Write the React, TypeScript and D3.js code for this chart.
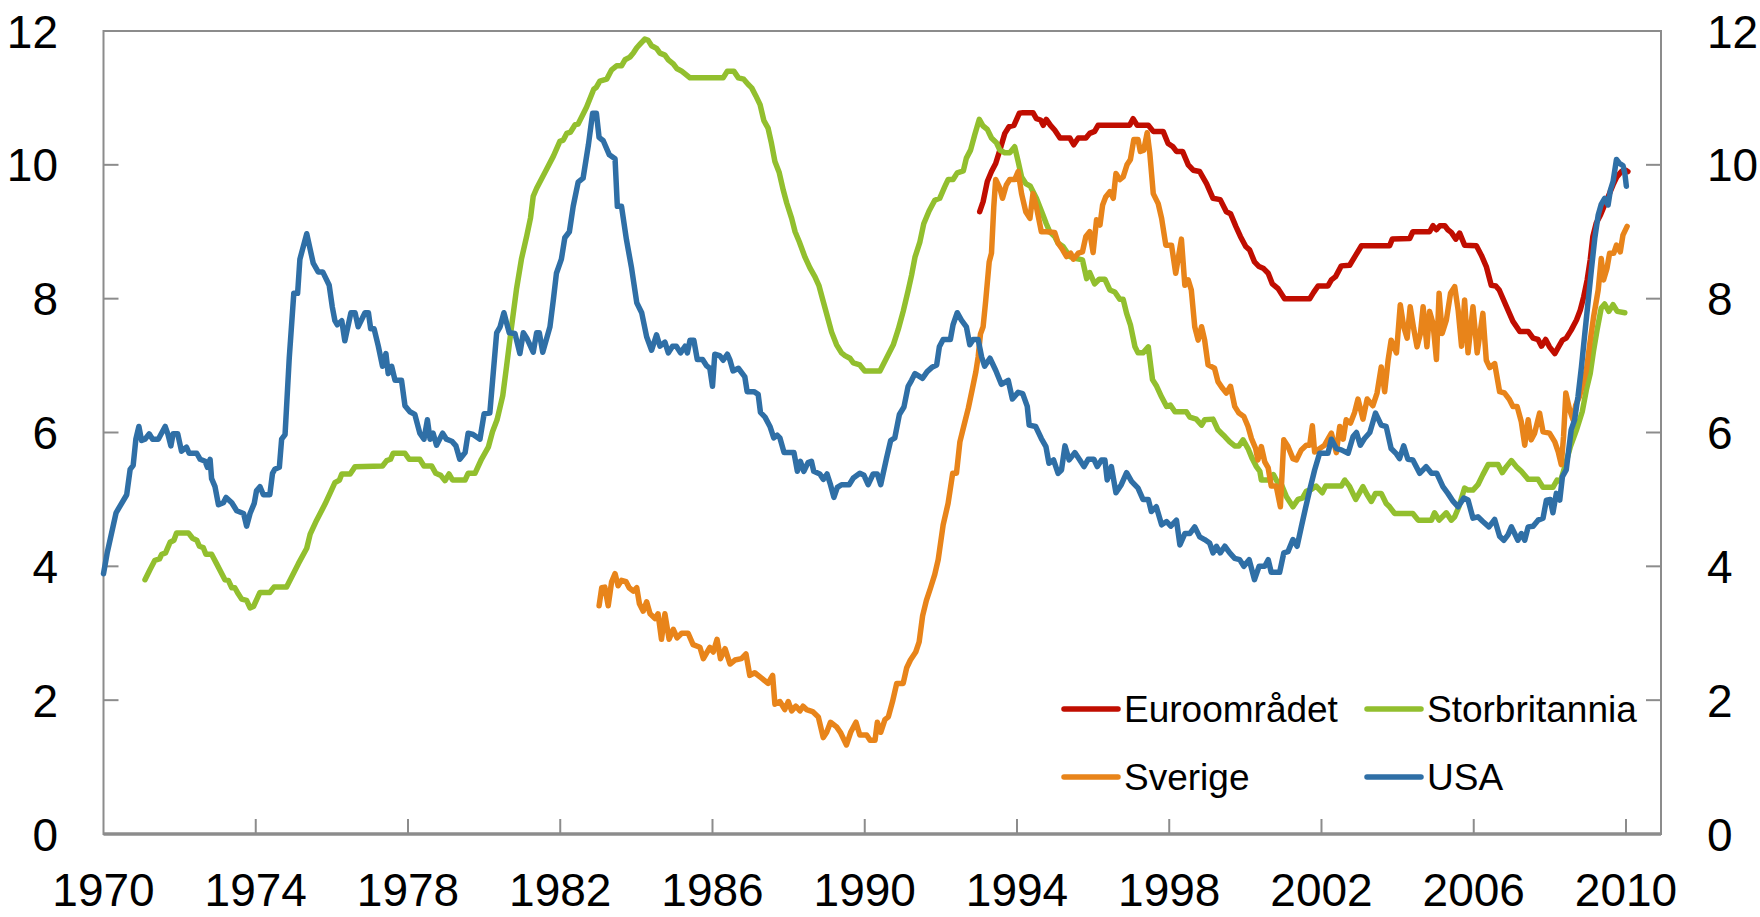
import React from "react";
import * as d3 from "d3";

// policy rates (%), [year, value]
const euro: [number, number][] = [
  [1993.02, 9.3], [1993.11, 9.45], [1993.22, 9.75], [1993.33, 9.9], [1993.44, 10.02], [1993.55, 10.22], [1993.68, 10.47],
  [1993.79, 10.57], [1993.92, 10.59], [1994.06, 10.77], [1994.16, 10.78], [1994.42, 10.78], [1994.51, 10.69], [1994.62, 10.67],
  [1994.69, 10.59], [1994.77, 10.68], [1994.88, 10.59], [1994.99, 10.52], [1995.13, 10.4], [1995.39, 10.4], [1995.49, 10.3],
  [1995.61, 10.4], [1995.81, 10.4], [1995.91, 10.47], [1996.04, 10.5], [1996.13, 10.59], [1996.96, 10.59], [1997.05, 10.69],
  [1997.16, 10.59], [1997.45, 10.59], [1997.58, 10.5], [1997.84, 10.5], [1997.97, 10.32], [1998.1, 10.27], [1998.19, 10.2],
  [1998.35, 10.2], [1998.5, 10.0], [1998.63, 9.92], [1998.8, 9.9], [1998.98, 9.72], [1999.15, 9.5], [1999.34, 9.48],
  [1999.5, 9.3], [1999.61, 9.27], [1999.75, 9.08], [1999.87, 8.93], [2000.01, 8.78], [2000.11, 8.73], [2000.24, 8.55],
  [2000.36, 8.48], [2000.48, 8.45], [2000.6, 8.38], [2000.71, 8.22], [2000.86, 8.15], [2001.03, 8.0], [2001.69, 8.0],
  [2001.79, 8.09], [2001.91, 8.19], [2002.17, 8.19], [2002.26, 8.28], [2002.37, 8.33], [2002.52, 8.49], [2002.74, 8.5],
  [2002.9, 8.65], [2003.05, 8.79], [2003.79, 8.79], [2003.86, 8.89], [2004.32, 8.9], [2004.4, 9.0], [2004.84, 9.0],
  [2004.93, 9.09], [2005.02, 9.03], [2005.11, 9.09], [2005.24, 9.09], [2005.32, 9.03], [2005.41, 8.99], [2005.53, 8.89],
  [2005.63, 8.98], [2005.76, 8.8], [2006.07, 8.79], [2006.2, 8.65], [2006.33, 8.48], [2006.46, 8.2], [2006.58, 8.19],
  [2006.67, 8.13], [2006.86, 7.88], [2007.03, 7.66], [2007.21, 7.51], [2007.43, 7.51], [2007.56, 7.41], [2007.69, 7.39],
  [2007.78, 7.29], [2007.89, 7.39], [2007.99, 7.28], [2008.13, 7.18], [2008.24, 7.29], [2008.33, 7.38], [2008.43, 7.41],
  [2008.56, 7.53], [2008.7, 7.68], [2008.8, 7.83], [2008.89, 8.03], [2008.98, 8.28], [2009.06, 8.58], [2009.13, 8.93],
  [2009.22, 9.13], [2009.33, 9.25], [2009.44, 9.4], [2009.55, 9.55], [2009.66, 9.7], [2009.76, 9.82], [2009.88, 9.9],
  [2009.99, 9.92], [2010.05, 9.9],
];

const uk: [number, number][] = [
  [1971.09, 3.8], [1971.22, 3.95], [1971.35, 4.09], [1971.47, 4.11], [1971.53, 4.18], [1971.63, 4.2], [1971.75, 4.36],
  [1971.85, 4.39], [1971.92, 4.5], [1972.23, 4.5], [1972.34, 4.42], [1972.45, 4.39], [1972.52, 4.3], [1972.62, 4.28],
  [1972.69, 4.18], [1972.84, 4.18], [1972.97, 4.04], [1973.19, 3.8], [1973.28, 3.79], [1973.37, 3.68], [1973.45, 3.68],
  [1973.54, 3.59], [1973.63, 3.51], [1973.76, 3.49], [1973.85, 3.38], [1973.94, 3.4], [1974.11, 3.61], [1974.37, 3.61],
  [1974.48, 3.69], [1974.81, 3.69], [1975.12, 4.04], [1975.34, 4.27], [1975.43, 4.48], [1975.6, 4.69], [1975.82, 4.93],
  [1976.08, 5.25], [1976.2, 5.29], [1976.26, 5.38], [1976.48, 5.38], [1976.61, 5.49], [1977.33, 5.5], [1977.44, 5.58],
  [1977.54, 5.6], [1977.61, 5.69], [1977.92, 5.69], [1978.03, 5.6], [1978.31, 5.6], [1978.42, 5.5], [1978.62, 5.5],
  [1978.73, 5.39], [1978.86, 5.36], [1978.97, 5.28], [1979.08, 5.38], [1979.17, 5.29], [1979.5, 5.29], [1979.58, 5.39],
  [1979.76, 5.39], [1979.93, 5.6], [1980.11, 5.78], [1980.22, 6.01], [1980.34, 6.19], [1980.49, 6.55], [1980.59, 6.99],
  [1980.72, 7.58], [1980.85, 8.14], [1980.98, 8.59], [1981.12, 8.94], [1981.22, 9.21], [1981.29, 9.53], [1981.38, 9.65],
  [1981.6, 9.89], [1981.82, 10.13], [1981.99, 10.35], [1982.08, 10.37], [1982.17, 10.47], [1982.27, 10.49], [1982.39, 10.6],
  [1982.47, 10.61], [1982.69, 10.86], [1982.88, 11.13], [1982.95, 11.16], [1983.04, 11.25], [1983.22, 11.28], [1983.35, 11.42],
  [1983.48, 11.48], [1983.61, 11.48], [1983.7, 11.57], [1983.83, 11.61], [1983.92, 11.67], [1984.01, 11.75], [1984.09, 11.8],
  [1984.22, 11.88], [1984.31, 11.86], [1984.4, 11.78], [1984.53, 11.74], [1984.62, 11.67], [1984.75, 11.64], [1984.84, 11.57],
  [1984.97, 11.51], [1985.06, 11.44], [1985.19, 11.4], [1985.28, 11.36], [1985.41, 11.3], [1986.28, 11.3], [1986.39, 11.4],
  [1986.56, 11.4], [1986.68, 11.3], [1986.82, 11.28], [1986.94, 11.2], [1987.03, 11.15], [1987.14, 11.03], [1987.25, 10.9],
  [1987.35, 10.66], [1987.46, 10.55], [1987.55, 10.32], [1987.64, 10.05], [1987.75, 9.89], [1987.86, 9.62], [1987.95, 9.43],
  [1988.08, 9.2], [1988.17, 9.0], [1988.28, 8.85], [1988.43, 8.62], [1988.56, 8.46], [1988.69, 8.33], [1988.8, 8.19],
  [1988.89, 8.0], [1989.0, 7.77], [1989.13, 7.5], [1989.26, 7.31], [1989.39, 7.19], [1989.48, 7.15], [1989.61, 7.11],
  [1989.7, 7.04], [1989.87, 7.01], [1990.0, 6.92], [1990.4, 6.92], [1990.57, 7.11], [1990.75, 7.31], [1990.88, 7.54],
  [1991.01, 7.81], [1991.14, 8.12], [1991.23, 8.35], [1991.32, 8.62], [1991.45, 8.85], [1991.55, 9.12], [1991.69, 9.31],
  [1991.84, 9.47], [1991.97, 9.5], [1992.1, 9.67], [1992.19, 9.78], [1992.32, 9.78], [1992.43, 9.88], [1992.59, 9.91],
  [1992.67, 10.1], [1992.78, 10.22], [1992.89, 10.45], [1993.01, 10.68], [1993.11, 10.58], [1993.22, 10.53], [1993.33, 10.4],
  [1993.46, 10.33], [1993.55, 10.22], [1993.68, 10.18], [1993.81, 10.18], [1993.94, 10.27], [1994.03, 10.05], [1994.12, 9.82],
  [1994.23, 9.72], [1994.35, 9.68], [1994.51, 9.5], [1994.67, 9.27], [1994.77, 9.12], [1994.86, 9.0], [1994.99, 8.93],
  [1995.08, 8.83], [1995.21, 8.78], [1995.39, 8.63], [1995.56, 8.6], [1995.72, 8.58], [1995.83, 8.3], [1995.91, 8.39],
  [1996.04, 8.22], [1996.16, 8.29], [1996.31, 8.29], [1996.44, 8.13], [1996.57, 8.1], [1996.7, 7.99], [1996.79, 7.99],
  [1996.88, 7.78], [1996.98, 7.61], [1997.1, 7.28], [1997.18, 7.19], [1997.31, 7.19], [1997.45, 7.28], [1997.56, 6.79],
  [1997.67, 6.69], [1997.8, 6.53], [1997.93, 6.39], [1998.03, 6.41], [1998.15, 6.31], [1998.45, 6.31], [1998.54, 6.23],
  [1998.71, 6.2], [1998.85, 6.11], [1998.93, 6.19], [1999.15, 6.2], [1999.28, 6.04], [1999.37, 5.99], [1999.46, 5.94],
  [1999.59, 5.86], [1999.72, 5.8], [1999.83, 5.8], [1999.94, 5.89], [2000.07, 5.76], [2000.18, 5.61], [2000.29, 5.49],
  [2000.38, 5.42], [2000.42, 5.29], [2000.64, 5.29], [2000.74, 5.37], [2000.83, 5.27], [2000.95, 5.22], [2001.08, 5.04],
  [2001.25, 4.89], [2001.38, 5.0], [2001.5, 5.02], [2001.6, 5.12], [2001.73, 5.15], [2001.86, 5.2], [2002.02, 5.1],
  [2002.11, 5.2], [2002.52, 5.2], [2002.61, 5.29], [2002.74, 5.19], [2002.9, 5.0], [2002.99, 5.09], [2003.09, 5.19],
  [2003.2, 5.07], [2003.31, 4.97], [2003.42, 5.09], [2003.57, 5.09], [2003.7, 4.94], [2003.79, 4.89], [2003.92, 4.79],
  [2004.4, 4.79], [2004.54, 4.69], [2004.89, 4.69], [2004.97, 4.8], [2005.09, 4.69], [2005.28, 4.8], [2005.41, 4.69],
  [2005.5, 4.74], [2005.61, 4.89], [2005.76, 5.17], [2005.85, 5.14], [2005.98, 5.14], [2006.11, 5.22], [2006.24, 5.37],
  [2006.38, 5.52], [2006.64, 5.52], [2006.75, 5.4], [2006.86, 5.49], [2006.99, 5.58], [2007.12, 5.49], [2007.25, 5.42],
  [2007.43, 5.3], [2007.69, 5.3], [2007.82, 5.18], [2008.08, 5.18], [2008.19, 5.29], [2008.28, 5.27], [2008.42, 5.54],
  [2008.54, 5.79], [2008.7, 6.04], [2008.85, 6.31], [2008.96, 6.64], [2009.06, 6.88], [2009.15, 7.23], [2009.24, 7.53],
  [2009.35, 7.86], [2009.44, 7.92], [2009.55, 7.81], [2009.66, 7.91], [2009.77, 7.81], [2009.97, 7.79],
];

const sweden: [number, number][] = [
  [1983.02, 3.41], [1983.09, 3.68], [1983.17, 3.69], [1983.26, 3.41], [1983.35, 3.77], [1983.44, 3.89], [1983.52, 3.71],
  [1983.61, 3.79], [1983.73, 3.77], [1983.81, 3.68], [1983.92, 3.63], [1984.01, 3.68], [1984.08, 3.44], [1984.18, 3.33],
  [1984.27, 3.47], [1984.36, 3.29], [1984.49, 3.22], [1984.57, 3.29], [1984.66, 2.91], [1984.75, 3.29], [1984.86, 2.91],
  [1984.97, 3.06], [1985.07, 2.93], [1985.19, 3.0], [1985.36, 3.0], [1985.49, 2.83], [1985.67, 2.79], [1985.76, 2.62],
  [1985.93, 2.79], [1986.02, 2.72], [1986.12, 2.91], [1986.21, 2.62], [1986.33, 2.77], [1986.46, 2.54], [1986.59, 2.6],
  [1986.76, 2.62], [1986.88, 2.69], [1986.98, 2.37], [1987.11, 2.41], [1987.29, 2.33], [1987.46, 2.25], [1987.58, 2.37],
  [1987.64, 1.94], [1987.77, 1.98], [1987.9, 1.86], [1987.99, 1.98], [1988.08, 1.84], [1988.19, 1.91], [1988.3, 1.84],
  [1988.38, 1.91], [1988.47, 1.86], [1988.63, 1.83], [1988.78, 1.75], [1988.91, 1.44], [1989.0, 1.52], [1989.1, 1.67],
  [1989.26, 1.6], [1989.36, 1.52], [1989.52, 1.33], [1989.63, 1.52], [1989.77, 1.67], [1989.87, 1.48], [1990.05, 1.48],
  [1990.14, 1.4], [1990.27, 1.4], [1990.33, 1.67], [1990.42, 1.52], [1990.53, 1.71], [1990.62, 1.75], [1990.73, 1.98],
  [1990.84, 2.25], [1991.01, 2.25], [1991.1, 2.48], [1991.2, 2.6], [1991.34, 2.72], [1991.43, 2.87], [1991.52, 3.26],
  [1991.62, 3.49], [1991.73, 3.68], [1991.84, 3.88], [1991.93, 4.1], [1992.06, 4.62], [1992.19, 4.94], [1992.31, 5.39],
  [1992.41, 5.39], [1992.5, 5.86], [1992.6, 6.09], [1992.72, 6.36], [1992.83, 6.66], [1992.92, 6.91], [1992.98, 7.13],
  [1993.04, 7.47], [1993.11, 7.58], [1993.18, 7.98], [1993.27, 8.55], [1993.33, 8.68], [1993.39, 9.37], [1993.44, 9.78],
  [1993.55, 9.65], [1993.62, 9.5], [1993.72, 9.7], [1993.81, 9.78], [1993.94, 9.78], [1994.03, 9.9], [1994.12, 9.57],
  [1994.23, 9.3], [1994.34, 9.2], [1994.42, 9.57], [1994.51, 9.37], [1994.64, 9.0], [1994.77, 9.0], [1994.99, 8.99],
  [1995.08, 8.83], [1995.2, 8.73], [1995.3, 8.63], [1995.41, 8.68], [1995.48, 8.59], [1995.61, 8.68], [1995.72, 8.7],
  [1995.81, 8.93], [1995.91, 9.0], [1996.0, 8.69], [1996.09, 9.18], [1996.18, 9.1], [1996.25, 9.4], [1996.33, 9.52],
  [1996.44, 9.6], [1996.53, 9.5], [1996.6, 9.87], [1996.7, 9.78], [1996.79, 9.82], [1996.89, 10.0], [1996.98, 10.08],
  [1997.07, 10.38], [1997.18, 10.38], [1997.24, 10.2], [1997.33, 10.22], [1997.42, 10.48], [1997.49, 10.17], [1997.58, 9.57],
  [1997.71, 9.42], [1997.8, 9.2], [1997.91, 8.8], [1998.06, 8.8], [1998.17, 8.38], [1998.32, 8.89], [1998.41, 8.2],
  [1998.5, 8.28], [1998.58, 8.13], [1998.67, 7.58], [1998.76, 7.38], [1998.85, 7.58], [1998.93, 7.38], [1999.02, 7.01],
  [1999.19, 6.96], [1999.28, 6.76], [1999.4, 6.66], [1999.5, 6.59], [1999.61, 6.69], [1999.72, 6.39], [1999.83, 6.29],
  [1999.96, 6.24], [2000.07, 6.09], [2000.16, 5.91], [2000.27, 5.76], [2000.33, 5.59], [2000.42, 5.79], [2000.51, 5.56],
  [2000.6, 5.47], [2000.68, 5.2], [2000.81, 5.2], [2000.92, 4.89], [2001.01, 5.89], [2001.12, 5.79], [2001.25, 5.61],
  [2001.34, 5.59], [2001.47, 5.74], [2001.6, 5.81], [2001.69, 5.81], [2001.76, 6.1], [2001.82, 5.71], [2002.08, 5.81],
  [2002.26, 5.99], [2002.39, 5.7], [2002.48, 6.09], [2002.57, 5.9], [2002.65, 6.19], [2002.76, 6.14], [2002.87, 6.3],
  [2002.96, 6.5], [2003.09, 6.2], [2003.2, 6.5], [2003.35, 6.4], [2003.46, 6.59], [2003.57, 6.98], [2003.66, 6.61],
  [2003.75, 7.08], [2003.83, 7.38], [2003.97, 7.19], [2004.07, 7.91], [2004.16, 7.58], [2004.25, 7.41], [2004.33, 7.88],
  [2004.42, 7.56], [2004.51, 7.28], [2004.6, 7.48], [2004.67, 7.88], [2004.77, 7.28], [2004.84, 7.81], [2004.93, 7.63],
  [2005.02, 7.09], [2005.09, 8.08], [2005.17, 7.48], [2005.28, 7.68], [2005.39, 8.08], [2005.5, 8.18], [2005.59, 7.83],
  [2005.68, 7.29], [2005.76, 7.98], [2005.85, 7.19], [2005.98, 7.88], [2006.09, 7.19], [2006.24, 7.78], [2006.33, 7.08],
  [2006.42, 6.97], [2006.55, 7.03], [2006.68, 6.61], [2006.81, 6.59], [2006.94, 6.49], [2007.03, 6.39], [2007.14, 6.39],
  [2007.25, 6.16], [2007.34, 5.81], [2007.43, 6.19], [2007.51, 5.89], [2007.6, 5.99], [2007.73, 6.29], [2007.82, 6.01],
  [2007.99, 5.99], [2008.13, 5.86], [2008.22, 5.71], [2008.3, 5.52], [2008.36, 5.94], [2008.42, 6.59], [2008.52, 6.34],
  [2008.61, 6.19], [2008.68, 6.41], [2008.78, 6.54], [2008.87, 6.74], [2008.96, 6.93], [2009.05, 7.33], [2009.15, 7.73],
  [2009.27, 8.13], [2009.35, 8.6], [2009.41, 8.28], [2009.5, 8.45], [2009.57, 8.68], [2009.68, 8.68], [2009.75, 8.8],
  [2009.85, 8.7], [2009.92, 8.95], [2010.03, 9.08],
];

const usa: [number, number][] = [
  [1970.0, 3.89], [1970.1, 4.21], [1970.33, 4.8], [1970.61, 5.07], [1970.7, 5.45], [1970.78, 5.51], [1970.85, 5.9],
  [1970.93, 6.09], [1971.0, 5.88], [1971.09, 5.9], [1971.2, 5.98], [1971.29, 5.9], [1971.44, 5.9], [1971.62, 6.09],
  [1971.69, 5.98], [1971.77, 5.8], [1971.83, 5.98], [1971.95, 5.98], [1972.05, 5.72], [1972.18, 5.78], [1972.25, 5.69],
  [1972.45, 5.69], [1972.54, 5.6], [1972.67, 5.57], [1972.73, 5.48], [1972.8, 5.6], [1972.84, 5.31], [1972.93, 5.19],
  [1973.02, 4.92], [1973.15, 4.95], [1973.22, 5.03], [1973.37, 4.95], [1973.5, 4.83], [1973.68, 4.79], [1973.76, 4.6],
  [1973.85, 4.79], [1973.96, 4.94], [1974.02, 5.13], [1974.11, 5.19], [1974.2, 5.07], [1974.37, 5.07], [1974.44, 5.39],
  [1974.5, 5.45], [1974.62, 5.48], [1974.68, 5.9], [1974.77, 5.97], [1974.88, 7.11], [1975.0, 8.08], [1975.1, 8.08],
  [1975.16, 8.59], [1975.34, 8.97], [1975.51, 8.53], [1975.64, 8.4], [1975.76, 8.4], [1975.93, 8.2], [1976.01, 7.88],
  [1976.08, 7.67], [1976.14, 7.61], [1976.26, 7.67], [1976.34, 7.37], [1976.5, 7.79], [1976.61, 7.79], [1976.69, 7.58],
  [1976.87, 7.79], [1976.96, 7.79], [1977.02, 7.55], [1977.11, 7.55], [1977.22, 7.29], [1977.33, 6.99], [1977.42, 7.18],
  [1977.48, 6.88], [1977.57, 6.99], [1977.66, 6.78], [1977.83, 6.78], [1977.92, 6.4], [1978.05, 6.31], [1978.18, 6.27],
  [1978.31, 5.99], [1978.42, 5.9], [1978.51, 6.19], [1978.58, 5.9], [1978.66, 5.99], [1978.75, 5.81], [1978.91, 5.99],
  [1979.01, 5.9], [1979.15, 5.87], [1979.26, 5.8], [1979.36, 5.6], [1979.5, 5.7], [1979.58, 5.99], [1979.71, 5.97],
  [1979.89, 5.9], [1980.0, 6.28], [1980.15, 6.29], [1980.33, 7.49], [1980.42, 7.58], [1980.52, 7.79], [1980.66, 7.49],
  [1980.81, 7.48], [1980.94, 7.18], [1981.03, 7.49], [1981.13, 7.4], [1981.29, 7.2], [1981.38, 7.49], [1981.45, 7.49],
  [1981.54, 7.2], [1981.73, 7.58], [1981.82, 7.99], [1981.9, 8.38], [1982.03, 8.59], [1982.12, 8.91], [1982.24, 9.0],
  [1982.34, 9.38], [1982.47, 9.74], [1982.6, 9.8], [1982.74, 10.3], [1982.85, 10.77], [1982.95, 10.77], [1983.02, 10.41],
  [1983.13, 10.36], [1983.29, 10.15], [1983.44, 10.09], [1983.5, 9.38], [1983.61, 9.38], [1983.74, 8.88], [1983.87, 8.47],
  [1984.01, 7.94], [1984.14, 7.79], [1984.27, 7.43], [1984.4, 7.23], [1984.53, 7.46], [1984.62, 7.29], [1984.75, 7.35],
  [1984.84, 7.19], [1984.95, 7.29], [1985.05, 7.29], [1985.16, 7.19], [1985.28, 7.29], [1985.34, 7.19], [1985.41, 7.38],
  [1985.51, 7.38], [1985.6, 7.09], [1985.74, 7.09], [1985.84, 7.0], [1985.93, 6.96], [1986.0, 6.69], [1986.06, 7.17],
  [1986.19, 7.15], [1986.28, 7.08], [1986.39, 7.17], [1986.46, 7.08], [1986.54, 6.92], [1986.68, 6.96], [1986.85, 6.83],
  [1986.91, 6.61], [1987.09, 6.61], [1987.2, 6.57], [1987.26, 6.3], [1987.38, 6.23], [1987.51, 6.09], [1987.61, 5.92],
  [1987.7, 5.96], [1987.77, 5.92], [1987.88, 5.7], [1988.14, 5.7], [1988.23, 5.42], [1988.31, 5.57], [1988.4, 5.42],
  [1988.51, 5.55], [1988.6, 5.57], [1988.66, 5.42], [1988.82, 5.38], [1988.91, 5.3], [1989.01, 5.38], [1989.1, 5.22],
  [1989.19, 5.03], [1989.28, 5.18], [1989.39, 5.22], [1989.59, 5.22], [1989.7, 5.32], [1989.87, 5.39], [1989.98, 5.36],
  [1990.09, 5.22], [1990.22, 5.38], [1990.33, 5.38], [1990.42, 5.22], [1990.57, 5.61], [1990.68, 5.88], [1990.79, 5.92],
  [1990.91, 6.27], [1991.03, 6.38], [1991.14, 6.69], [1991.23, 6.78], [1991.32, 6.88], [1991.52, 6.81], [1991.64, 6.91],
  [1991.78, 6.98], [1991.89, 7.01], [1991.96, 7.28], [1992.06, 7.39], [1992.25, 7.39], [1992.32, 7.61], [1992.43, 7.79],
  [1992.54, 7.68], [1992.67, 7.58], [1992.76, 7.31], [1992.85, 7.39], [1992.98, 7.39], [1993.07, 7.13], [1993.15, 6.99],
  [1993.29, 7.11], [1993.44, 6.93], [1993.59, 6.72], [1993.77, 6.78], [1993.88, 6.5], [1994.03, 6.6], [1994.15, 6.58],
  [1994.27, 6.39], [1994.32, 6.11], [1994.49, 6.09], [1994.64, 5.91], [1994.76, 5.79], [1994.84, 5.54], [1994.96, 5.59],
  [1995.08, 5.39], [1995.17, 5.44], [1995.26, 5.8], [1995.37, 5.59], [1995.52, 5.7], [1995.65, 5.59], [1995.76, 5.49],
  [1995.87, 5.6], [1996.02, 5.6], [1996.11, 5.49], [1996.22, 5.59], [1996.31, 5.59], [1996.37, 5.29], [1996.48, 5.49],
  [1996.6, 5.1], [1996.74, 5.22], [1996.88, 5.4], [1997.01, 5.27], [1997.18, 5.17], [1997.31, 5.0], [1997.45, 5.0],
  [1997.53, 4.82], [1997.66, 4.89], [1997.8, 4.62], [1997.93, 4.67], [1998.04, 4.6], [1998.19, 4.69], [1998.28, 4.32],
  [1998.41, 4.49], [1998.54, 4.49], [1998.67, 4.59], [1998.8, 4.44], [1998.93, 4.4], [1999.06, 4.35], [1999.15, 4.2],
  [1999.24, 4.3], [1999.34, 4.2], [1999.46, 4.3], [1999.59, 4.2], [1999.72, 4.12], [1999.85, 4.1], [1999.96, 4.0],
  [2000.1, 4.1], [2000.24, 3.8], [2000.36, 4.0], [2000.51, 4.0], [2000.6, 4.1], [2000.68, 3.91], [2000.9, 3.91],
  [2001.01, 4.2], [2001.12, 4.22], [2001.25, 4.4], [2001.36, 4.3], [2001.47, 4.59], [2001.58, 4.87], [2001.69, 5.14],
  [2001.82, 5.44], [2001.95, 5.69], [2002.17, 5.69], [2002.26, 5.9], [2002.39, 5.76], [2002.52, 5.74], [2002.7, 5.69],
  [2002.83, 5.94], [2002.92, 6.0], [2003.02, 5.81], [2003.13, 5.91], [2003.27, 6.0], [2003.42, 6.29], [2003.57, 6.11],
  [2003.7, 6.09], [2003.83, 5.76], [2003.97, 5.68], [2004.05, 5.61], [2004.16, 5.8], [2004.27, 5.6], [2004.4, 5.59],
  [2004.58, 5.39], [2004.75, 5.49], [2004.89, 5.39], [2005.03, 5.39], [2005.19, 5.19], [2005.32, 5.09], [2005.46, 4.97],
  [2005.59, 4.89], [2005.74, 5.02], [2005.85, 4.99], [2005.98, 4.72], [2006.11, 4.74], [2006.24, 4.67], [2006.4, 4.59],
  [2006.55, 4.7], [2006.68, 4.45], [2006.79, 4.39], [2006.9, 4.47], [2006.99, 4.59], [2007.16, 4.39], [2007.25, 4.49],
  [2007.34, 4.39], [2007.43, 4.59], [2007.56, 4.6], [2007.69, 4.69], [2007.82, 4.72], [2007.91, 4.99], [2008.01, 5.0],
  [2008.08, 4.8], [2008.17, 5.09], [2008.26, 4.99], [2008.33, 5.34], [2008.43, 5.44], [2008.56, 6.04], [2008.65, 6.19],
  [2008.74, 6.54], [2008.83, 6.98], [2008.91, 7.43], [2009.0, 7.93], [2009.09, 8.43], [2009.18, 8.9], [2009.27, 9.25],
  [2009.35, 9.41], [2009.44, 9.5], [2009.53, 9.4], [2009.59, 9.62], [2009.66, 9.75], [2009.75, 10.08], [2009.83, 10.02],
  [2009.92, 9.99], [2009.97, 9.87], [2010.01, 9.68],
];

const seriesNames = ["Euroområdet", "Storbritannia", "Sverige", "USA"];
const seriesColors = ["#c00d00", "#92bf2e", "#e8841a", "#2f6fa6"];
const yTicks = [0, 2, 4, 6, 8, 10, 12];
const xTickYears = [1970, 1974, 1978, 1982, 1986, 1990, 1994, 1998, 2002, 2006, 2010];

const W = 1760;
const H = 917;
const margin = { left: 103.5, right: 99, top: 31, bottom: 83 };
const font = "'Liberation Sans', Arial, sans-serif";
const axisGrey = "#8c8c8c";

export default function App() {
  const x = d3.scaleLinear().domain([1970, 2010.92]).range([margin.left, W - margin.right]);
  const y = d3.scaleLinear().domain([0, 12]).range([H - margin.bottom, margin.top]);
  const line = d3.line<[number, number]>().x(d => x(d[0])).y(d => y(d[1]));

  const data = [euro, uk, sweden, usa];
  const x0 = x.range()[0];
  const x1 = x.range()[1];
  const yBottom = y(0);
  const yTop = y(12);

  // legend layout: 2 x 2
  const legendCols = [1064, 1367];
  const legendRows = [709, 777];

  return (
    <svg width={W} height={H} style={{ position: "absolute", left: 0, top: 0, background: "#fff" }}
      fontFamily={font}>
      {/* frame */}
      <rect x={x0} y={yTop} width={x1 - x0} height={yBottom - yTop} fill="none" stroke={axisGrey} strokeWidth={2} />

      {/* y ticks, both sides, pointing inwards */}
      {yTicks.filter(t => t > 0 && t < 12).map(t => (
        <g key={"yt" + t}>
          <line x1={x0} x2={x0 + 15} y1={y(t)} y2={y(t)} stroke={axisGrey} strokeWidth={2} />
          <line x1={x1 - 15} x2={x1} y1={y(t)} y2={y(t)} stroke={axisGrey} strokeWidth={2} />
        </g>
      ))}
      {yTicks.map(t => (
        <g key={"yl" + t} fontSize={46} fill="#000">
          <text x={58} y={y(t) + 16.5} textAnchor="end">{t}</text>
          <text x={1707} y={y(t) + 16.5} textAnchor="start">{t}</text>
        </g>
      ))}

      {/* x ticks */}
      {xTickYears.filter(yr => yr > 1970).map(yr => (
        <line key={"xt" + yr} x1={x(yr)} x2={x(yr)} y1={yBottom} y2={yBottom - 15} stroke={axisGrey} strokeWidth={2} />
      ))}
      {xTickYears.map(yr => (
        <text key={"xl" + yr} x={x(yr)} y={906} textAnchor="middle" fontSize={46} fill="#000">{yr}</text>
      ))}

      {/* series */}
      {data.map((d, i) => (
        <path key={seriesNames[i]} d={line(d) ?? ""} fill="none" stroke={seriesColors[i]}
          strokeWidth={5.5} strokeLinejoin="round" strokeLinecap="round" />
      ))}

      {/* bottom axis line, drawn heavier */}
      <line x1={x0} x2={x1} y1={yBottom} y2={yBottom} stroke={axisGrey} strokeWidth={3.5} />

      {/* legend */}
      {seriesNames.map((name, i) => {
        const lx = legendCols[i % 2];
        const ly = legendRows[Math.floor(i / 2)];
        return (
          <g key={"lg" + name}>
            <line x1={lx} x2={lx + 54} y1={ly} y2={ly} stroke={seriesColors[i]} strokeWidth={5.5} strokeLinecap="round" />
            <text x={lx + 60} y={ly + 13} fontSize={37} fill="#000">{name}</text>
          </g>
        );
      })}
    </svg>
  );
}
